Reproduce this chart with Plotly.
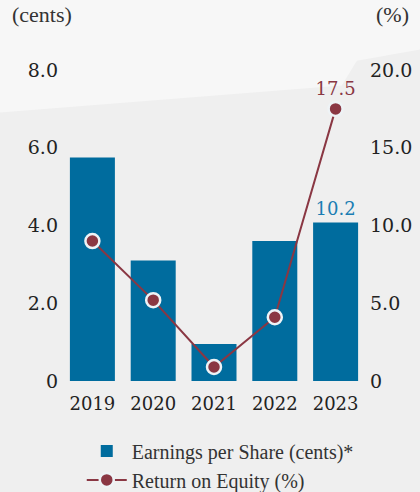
import plotly.graph_objects as go

years = ["2019", "2020", "2021", "2022", "2023"]
eps = [5.75, 3.1, 0.95, 3.6, 4.08]
eps_labels = ["", "", "", "", "10.2"]
roe = [9.0, 5.2, 0.9, 4.1, 17.5]
roe_labels = ["", "", "", "", "17.5"]
left_ticks = [0, 2, 4, 6, 8]
left_ticktext = ["0", "2.0", "4.0", "6.0", "8.0"]
right_ticks = [0, 5, 10, 15, 20]
right_ticktext = ["0", "5.0", "10.0", "15.0", "20.0"]

BLUE = "#006c9e"
RED = "#8a3743"
NUM_FONT = "DejaVu Serif"
TXT_FONT = "Liberation Serif"

fig = go.Figure()
fig.add_trace(go.Bar(
    x=years, y=eps, name="Earnings per Share (cents)*",
    marker=dict(color=BLUE, line=dict(width=0)),
    text=eps_labels, textposition="outside", cliponaxis=False,
    textfont=dict(family=NUM_FONT, size=18, color="#1a7db3"),
    yaxis="y",
))
fig.add_trace(go.Scatter(
    x=years, y=roe, name="Return on Equity (%)",
    mode="lines+markers+text",
    line=dict(color=RED, width=2),
    marker=dict(color=RED, size=14, line=dict(color="#eef3f6", width=2.5)),
    text=roe_labels, textposition="top center", cliponaxis=False,
    textfont=dict(family=NUM_FONT, size=18, color=RED),
    yaxis="y2",
))

fig.update_layout(
    width=420, height=492,
    margin=dict(l=62, r=54, t=70, b=111, autoexpand=False),
    paper_bgcolor="#efefef", plot_bgcolor="rgba(0,0,0,0)",
    bargap=0.26,
    showlegend=True,
    legend=dict(
        orientation="v", x=0.065, y=-0.162, xanchor="left", yanchor="top",
        font=dict(family=TXT_FONT, size=20, color="#333333"),
        bgcolor="rgba(0,0,0,0)", tracegroupgap=4, itemwidth=40,
    ),
    xaxis=dict(
        showgrid=False, showline=False, zeroline=False,
        ticks="outside", ticklen=6, tickcolor="rgba(0,0,0,0)",
        tickfont=dict(family=NUM_FONT, size=18, color="#222222"),
    ),
    yaxis=dict(
        range=[0, 8], tickvals=left_ticks, ticktext=left_ticktext,
        showgrid=False, showline=False, zeroline=False, ticks="",
        ticklabelstandoff=3,
        tickfont=dict(family=NUM_FONT, size=19, color="#222222"),
    ),
    yaxis2=dict(
        range=[0, 20], tickvals=right_ticks, ticktext=right_ticktext,
        overlaying="y", side="right",
        showgrid=False, showline=False, zeroline=False, ticks="",
        ticklabelstandoff=3,
        tickfont=dict(family=NUM_FONT, size=19, color="#222222"),
    ),
    shapes=[
        dict(type="path", xref="paper", yref="paper", layer="below",
             path="M -0.25 1.3 L 1.2 1.3 L 1.2 1.07 L 0.97 1.03 L 0.92 0.95 L -0.25 0.86 Z",
             fillcolor="#f7f7f7", line=dict(width=0)),
    ],
    annotations=[
        dict(text="(cents)", xref="paper", yref="paper", x=-0.17, y=1.18,
             xanchor="left", yanchor="middle", showarrow=False,
             font=dict(family=TXT_FONT, size=22, color="#333333")),
        dict(text="(%)", xref="paper", yref="paper", x=1.025, y=1.18,
             xanchor="left", yanchor="middle", showarrow=False,
             font=dict(family=TXT_FONT, size=22, color="#333333")),
    ],
)

fig.write_html("out.html")
